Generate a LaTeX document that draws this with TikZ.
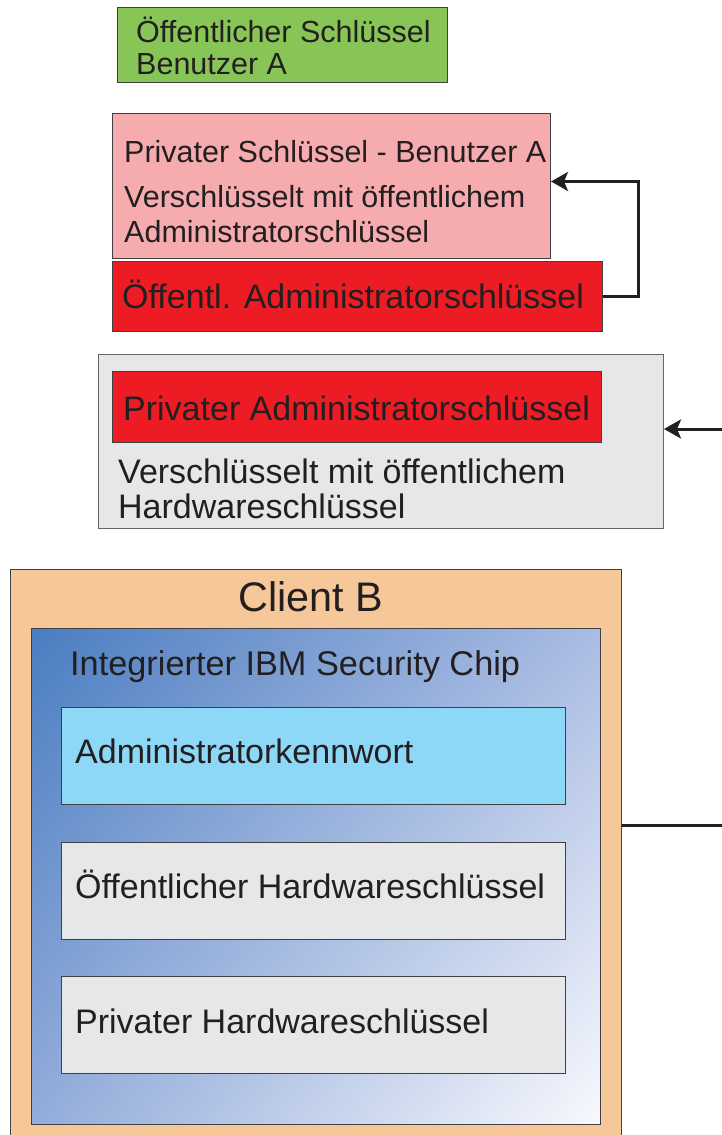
\documentclass[tikz,border=0pt]{standalone}
\usepackage{fontspec}
\setmainfont{Liberation Sans}
\usetikzlibrary{arrows.meta,shadings}

\definecolor{ink}{HTML}{231F20}
\definecolor{edge}{HTML}{404041}
\definecolor{keygreen}{HTML}{88C557}
\definecolor{keypink}{HTML}{F6ABAE}
\definecolor{keyred}{HTML}{ED1C24}
\definecolor{panelgray}{HTML}{E6E7E8}
\definecolor{clientpeach}{HTML}{F5C799}
\definecolor{pwblue}{HTML}{8DD8F7}
\definecolor{chipUL}{HTML}{4A7DC1}
\definecolor{chipUR}{HTML}{AABCE3}
\definecolor{chipLL}{HTML}{93ACDA}
\definecolor{chipLR}{HTML}{F8F9FD}

\begin{document}
\begin{tikzpicture}[x=1pt,y=-1pt,
  box/.style={draw=edge, line width=1pt, inner sep=0pt, anchor=north west},
  txt/.style={anchor=base west, inner sep=0pt, text=ink},
  small/.style={font=\fontsize{30.5}{34}\selectfont},
  mid/.style={font=\fontsize{34}{38}\selectfont},
  conn/.style={draw=ink, line width=3pt},
  tip/.style={-{Stealth[length=17pt,width=19pt,inset=4pt]}}
]
\useasboundingbox (0,0) rectangle (722,1135);

% upper key boxes
\node[box, fill=keygreen, minimum width=330pt, minimum height=75pt] (pubA) at (117,7) {};
\node[txt, small] (pubAa) at (136,42) {Öffentlicher Schlüssel};
\node[txt, small] (pubAb) at (136,74) {Benutzer A};

\node[box, fill=keypink, minimum width=438pt, minimum height=145pt] (privA) at (112,113) {};
\node[txt, small] (privAa) at (124,162) {Privater Schlüssel - Benutzer A};
\node[txt, small] (privAb) at (124,207) {Verschlüsselt mit öffentlichem};
\node[txt, small] (privAc) at (124,242) {Administratorschlüssel};

\node[box, fill=keyred, minimum width=490pt, minimum height=70pt] (pubAdm) at (112,261) {};
\node[txt, mid] (pubAdmt) at (122,308) {Öffentl. Administratorschlüssel};

% encrypted administrator key
\node[box, draw=edge!80, fill=panelgray, minimum width=565pt, minimum height=174pt] (enc) at (98,354) {};
\node[box, fill=keyred, minimum width=489pt, minimum height=71pt] (privAdm) at (112,371) {};
\node[txt, mid] (privAdmt) at (123,420) {Privater Administratorschlüssel};
\node[txt, mid] (enca) at (118,483) {Verschlüsselt mit öffentlichem};
\node[txt, mid] (encb) at (118,518) {Hardwareschlüssel};

% client with security chip
\node[box, fill=clientpeach, minimum width=611pt, minimum height=570pt] (client) at (10,569) {};
\node[anchor=base, inner sep=0pt, text=ink, font=\fontsize{41.3}{45}\selectfont] (clientt) at (311,611) {Client B};

\node[box, upper left=chipUL, upper right=chipUR,
      lower left=chipLL, lower right=chipLR,
      minimum width=569pt, minimum height=496pt] (chip) at (31,628) {};
\node[txt, font=\fontsize{34.3}{38}\selectfont] (chipt) at (70,675) {Integrierter IBM Security Chip};

\node[box, fill=pwblue, minimum width=504pt, minimum height=97pt] (pw) at (61,707) {};
\node[txt, mid] (pwt) at (75,763) {Administratorkennwort};

\node[box, fill=panelgray, minimum width=504pt, minimum height=97pt] (pubHw) at (61,842) {};
\node[txt, mid] (pubHwt) at (75,898) {Öffentlicher Hardwareschlüssel};

\node[box, fill=panelgray, minimum width=504pt, minimum height=97pt] (privHw) at (61,976) {};
\node[txt, mid] (privHwt) at (75,1033) {Privater Hardwareschlüssel};

% connectors
\draw[conn, tip] (pubAdm.east) -- ++(35,0) |- ([yshift=4.5pt]privA.east);

\coordinate (encIn) at (722,429);
\draw[conn, tip] (encIn) -- (enc.east |- encIn);

\coordinate (clientOut) at (722,825);
\draw[conn] (client.east |- clientOut) -- (clientOut);
\end{tikzpicture}
\end{document}
